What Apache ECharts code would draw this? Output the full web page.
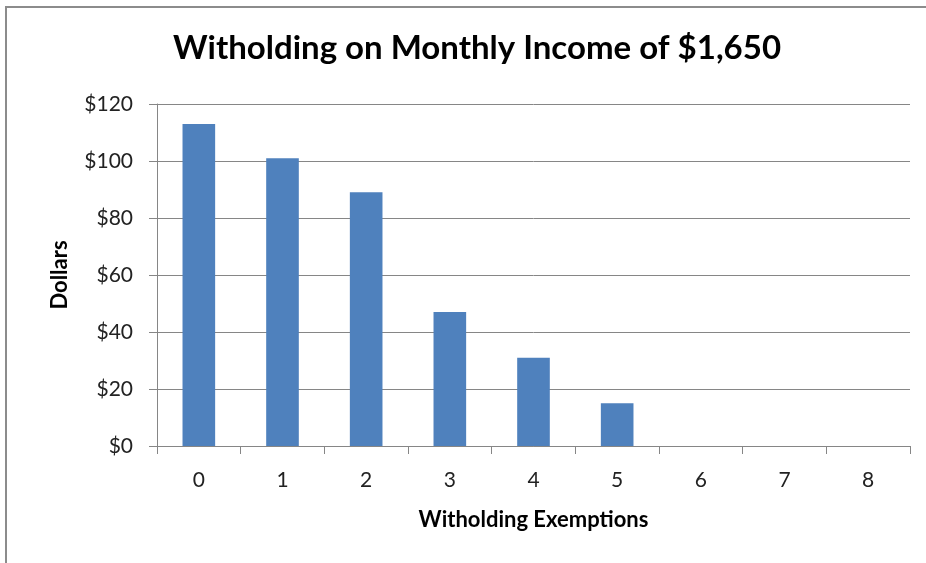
<!DOCTYPE html>
<html>
<head>
<meta charset="utf-8">
<script src="https://cdn.jsdelivr.net/npm/echarts@6/dist/echarts.min.js"></script>
<style>
  html, body { margin: 0; padding: 0; background: #fff; }
  #chart { width: 926px; height: 563px; }
</style>
</head>
<body>
<div id="chart"></div>
<script>
// 扣缴豁免数
const exemptions = ['0', '1', '2', '3', '4', '5', '6', '7', '8']
// 每月扣缴金额（美元）
const withholding = [113, 101, 89, 47, 31, 15, 0, 0, 0]

const font = 'Lato, "Open Sans", sans-serif'
const gray = '#868686'

let chart = echarts.init(document.getElementById('chart'))

let option = {
  backgroundColor: '#fff',
  animation: false,
  title: {
    text: 'Witholding on Monthly Income of $1,650',
    left: 472,
    textAlign: 'center',
    top: 27,
    textStyle: {
      fontFamily: font,
      fontSize: 33,
      fontWeight: 'bold',
      color: '#000',
    },
  },
  // 外框
  graphic: [
    {
      type: 'rect',
      shape: { x: 6, y: 7, width: 960, height: 600 },
      style: { fill: 'none', stroke: '#8c8c8c', lineWidth: 2 },
      silent: true,
    },
  ],
  grid: {
    left: 157,
    right: 16,
    top: 104,
    bottom: 117,
  },
  xAxis: {
    type: 'category',
    data: exemptions,
    name: 'Witholding Exemptions',
    nameLocation: 'middle',
    nameGap: 63,
    nameTextStyle: {
      fontFamily: font,
      fontSize: 22,
      fontWeight: 'bold',
      color: '#000',
    },
    axisLine: { show: true, lineStyle: { color: gray, width: 1 } },
    axisTick: { show: true, length: 8, alignWithLabel: false, lineStyle: { color: gray } },
    axisLabel: {
      margin: 24,
      fontFamily: font,
      fontSize: 21,
      color: '#222',
    },
  },
  yAxis: {
    type: 'value',
    min: 0,
    max: 120,
    interval: 20,
    name: 'Dollars',
    nameLocation: 'middle',
    nameGap: 86,
    nameRotate: 90,
    nameTextStyle: {
      fontFamily: font,
      fontSize: 22,
      fontWeight: 'bold',
      color: '#000',
    },
    axisLine: { show: true, lineStyle: { color: gray, width: 1 } },
    axisTick: { show: true, length: 8, lineStyle: { color: gray } },
    splitLine: { show: true, lineStyle: { color: gray, width: 1 } },
    axisLabel: {
      margin: 24,
      fontFamily: font,
      fontSize: 21,
      color: '#222',
      formatter: (v) => '$' + v,
    },
  },
  series: [
    {
      type: 'bar',
      data: withholding,
      barWidth: '39%',
      itemStyle: {
        color: '#4F81BD',
      },
    },
  ],
}
chart.setOption(option)
</script>
</body>
</html>
